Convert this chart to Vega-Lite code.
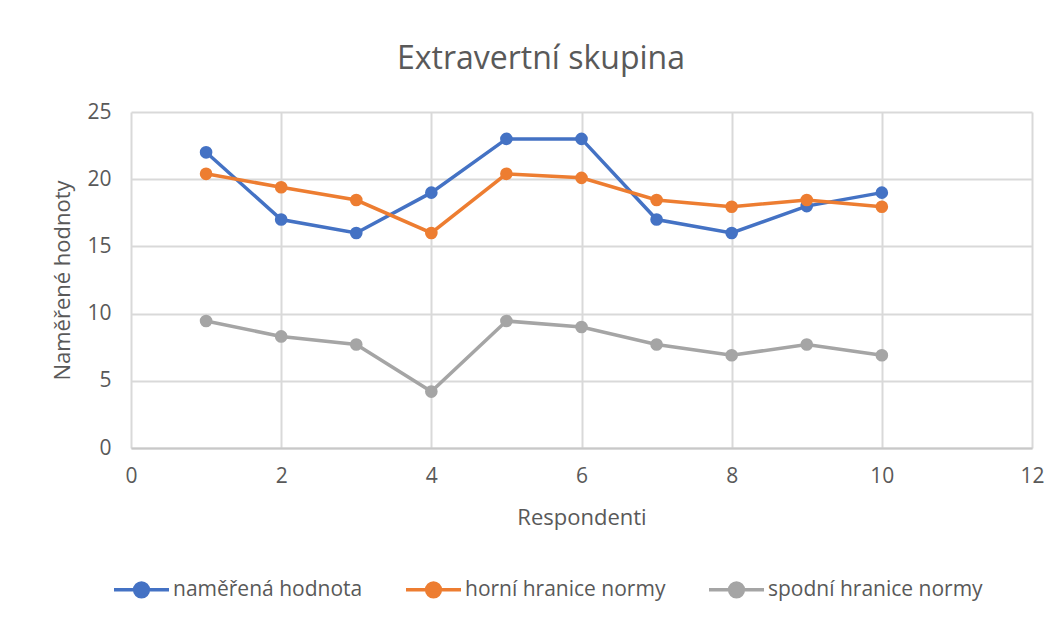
{
  "$schema": "https://vega.github.io/schema/vega-lite/v6.json",
  "width": 901,
  "height": 336,
  "autosize": {"type": "none"},
  "padding": {"left": 131, "top": 112, "right": 28, "bottom": 173},
  "background": "white",
  "title": {
    "text": "Extravertní skupina",
    "fontSize": 32,
    "font": "Open Sans",
    "fontWeight": "normal",
    "color": "#595959",
    "anchor": "middle",
    "frame": "bounds",
    "offset": 25,
    "dx": -7
  },
  "config": {
    "font": "Open Sans",
    "view": {"stroke": null},
    "axis": {
      "labelColor": "#595959",
      "titleColor": "#595959",
      "labelFont": "Open Sans",
      "titleFont": "Open Sans",
      "labelFontSize": 21,
      "titleFontSize": 22,
      "titleFontWeight": "normal",
      "gridColor": "#d9d9d9",
      "gridWidth": 2,
      "ticks": false
    },
    "legend": {
      "labelColor": "#595959",
      "labelFont": "Open Sans",
      "labelFontSize": 21,
      "labelLimit": 400
    }
  },
  "data": {
    "values": [
      {"Respondent": 1, "Skupina": "naměřená hodnota", "Hodnota": 22},
      {"Respondent": 2, "Skupina": "naměřená hodnota", "Hodnota": 17},
      {"Respondent": 3, "Skupina": "naměřená hodnota", "Hodnota": 16},
      {"Respondent": 4, "Skupina": "naměřená hodnota", "Hodnota": 19},
      {"Respondent": 5, "Skupina": "naměřená hodnota", "Hodnota": 23},
      {"Respondent": 6, "Skupina": "naměřená hodnota", "Hodnota": 23},
      {"Respondent": 7, "Skupina": "naměřená hodnota", "Hodnota": 17},
      {"Respondent": 8, "Skupina": "naměřená hodnota", "Hodnota": 16},
      {"Respondent": 9, "Skupina": "naměřená hodnota", "Hodnota": 18},
      {"Respondent": 10, "Skupina": "naměřená hodnota", "Hodnota": 19},
      {"Respondent": 1, "Skupina": "horní hranice normy", "Hodnota": 20.4},
      {"Respondent": 2, "Skupina": "horní hranice normy", "Hodnota": 19.4},
      {"Respondent": 3, "Skupina": "horní hranice normy", "Hodnota": 18.45},
      {"Respondent": 4, "Skupina": "horní hranice normy", "Hodnota": 16},
      {"Respondent": 5, "Skupina": "horní hranice normy", "Hodnota": 20.4},
      {"Respondent": 6, "Skupina": "horní hranice normy", "Hodnota": 20.1},
      {"Respondent": 7, "Skupina": "horní hranice normy", "Hodnota": 18.45},
      {"Respondent": 8, "Skupina": "horní hranice normy", "Hodnota": 17.95},
      {"Respondent": 9, "Skupina": "horní hranice normy", "Hodnota": 18.45},
      {"Respondent": 10, "Skupina": "horní hranice normy", "Hodnota": 17.95},
      {"Respondent": 1, "Skupina": "spodní hranice normy", "Hodnota": 9.45},
      {"Respondent": 2, "Skupina": "spodní hranice normy", "Hodnota": 8.3},
      {"Respondent": 3, "Skupina": "spodní hranice normy", "Hodnota": 7.7},
      {"Respondent": 4, "Skupina": "spodní hranice normy", "Hodnota": 4.2},
      {"Respondent": 5, "Skupina": "spodní hranice normy", "Hodnota": 9.45},
      {"Respondent": 6, "Skupina": "spodní hranice normy", "Hodnota": 9.0},
      {"Respondent": 7, "Skupina": "spodní hranice normy", "Hodnota": 7.7},
      {"Respondent": 8, "Skupina": "spodní hranice normy", "Hodnota": 6.9},
      {"Respondent": 9, "Skupina": "spodní hranice normy", "Hodnota": 7.7},
      {"Respondent": 10, "Skupina": "spodní hranice normy", "Hodnota": 6.9}
    ]
  },
  "mark": {
    "type": "line",
    "strokeWidth": 3.5,
    "point": {"filled": true, "size": 160, "opacity": 1}
  },
  "encoding": {
    "x": {
      "field": "Respondent",
      "type": "quantitative",
      "title": "Respondenti",
      "scale": {"domain": [0, 12], "nice": false},
      "axis": {
        "values": [0, 2, 4, 6, 8, 10, 12],
        "labelPadding": 17,
        "titlePadding": 21,
        "domainColor": "#c8c8c8",
        "domainWidth": 2,
        "labelFlush": false
      }
    },
    "y": {
      "field": "Hodnota",
      "type": "quantitative",
      "title": "Naměřené hodnoty",
      "scale": {"domain": [0, 25], "nice": false},
      "axis": {
        "values": [0, 5, 10, 15, 20, 25],
        "labelPadding": 20,
        "titlePadding": 12,
        "domain": false,
        "labelFlush": false
      }
    },
    "color": {
      "field": "Skupina",
      "type": "nominal",
      "scale": {
        "domain": ["naměřená hodnota", "horní hranice normy", "spodní hranice normy"],
        "range": ["#4472C4", "#ED7D31", "#A5A5A5"]
      },
      "legend": {
        "title": null,
        "orient": "none",
        "direction": "horizontal",
        "legendX": -19,
        "legendY": 448,
        "symbolType": "M-1,0L1,0M-0.25,0A0.25,0.25,0,1,0,0.25,0A0.25,0.25,0,1,0,-0.25,0Z",
        "symbolSize": 3025,
        "symbolStrokeWidth": 3.5,
        "labelOffset": 2,
        "columnPadding": 36,
        "encode": {
          "symbols": {
            "update": {
              "fill": {"field": "value", "scale": "color"},
              "stroke": {"field": "value", "scale": "color"},
              "opacity": {"value": 1}
            }
          }
        }
      }
    }
  }
}
